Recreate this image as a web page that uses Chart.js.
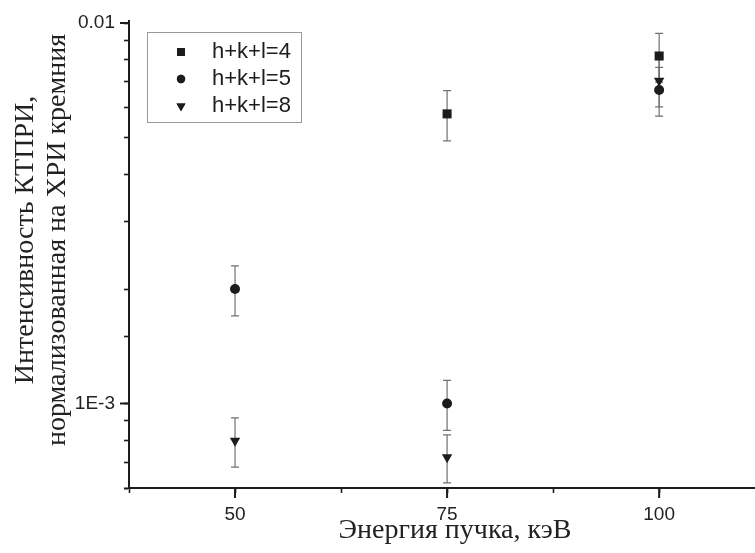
<!DOCTYPE html>
<html lang="ru">
<head>
    <meta charset="UTF-8">
    <title>Интенсивность КТПРИ</title>
    <script src="https://cdn.jsdelivr.net/npm/chart.js"></script>
    <style>
        body { margin: 0; background: #fff; }
        #wrap { width: 755px; height: 553px; }
    </style>
</head>
<body>
    <div id="wrap"><canvas id="chart" width="755" height="553"></canvas></div>

    <script>
        // data
        const energies = [50, 75, 100];
        const seriesLabels = ['h+k+l=4', 'h+k+l=5', 'h+k+l=8'];
        const hkl4 = [null, 0.00577, 0.00819];
        const hkl4Err = [null, 0.00087, 0.0012];
        const hkl5 = [0.0020, 0.0010, 0.00667];
        const hkl5Err = [0.0003, 0.00015, 0.00098];
        const hkl8 = [0.000799, 0.000723, 0.00705];
        const hkl8Err = [0.000118, 0.000104, 0.00103];
        const yTickLabels = { '-2': '0.01', '-3': '1E-3' };
        const xTickLabels = [50, 75, 100];
        const xTitle = 'Энергия пучка, кэВ';
        const yTitle = ['Интенсивность КТПРИ,', 'нормализованная на ХРИ кремния'];

        function points(vals, errs) {
            return energies.map((e, i) => ({ x: e, y: vals[i], err: errs[i] }))
                .filter(p => p.y != null);
        }

        const ink = '#1c1c1c';
        const serif = '"Liberation Serif", "Times New Roman", serif';
        const sans = '"Liberation Sans", Arial, sans-serif';

        // vertical error bars with small caps
        const errorBars = {
            id: 'errorBars',
            beforeDatasetsDraw(chart) {
                const { ctx, scales: { x, y } } = chart;
                ctx.save();
                ctx.strokeStyle = '#707070';
                ctx.lineWidth = 1.2;
                chart.data.datasets.forEach(ds => {
                    ds.data.forEach(p => {
                        const px = x.getPixelForValue(p.x);
                        const top = y.getPixelForValue(p.y + p.err);
                        const bot = y.getPixelForValue(p.y - p.err);
                        ctx.beginPath();
                        ctx.moveTo(px, top); ctx.lineTo(px, bot);
                        ctx.moveTo(px - 4, top); ctx.lineTo(px + 4, top);
                        ctx.moveTo(px - 4, bot); ctx.lineTo(px + 4, bot);
                        ctx.stroke();
                    });
                });
                ctx.restore();
            }
        };

        // longer ticks at the labelled values
        const majorTicks = {
            id: 'majorTicks',
            afterDraw(chart) {
                const { ctx, scales: { x, y }, chartArea } = chart;
                ctx.save();
                ctx.strokeStyle = ink;
                ctx.lineWidth = 1.6;
                ctx.beginPath();
                Object.keys(yTickLabels).forEach(k => {
                    const py = y.getPixelForValue(Math.pow(10, Number(k)));
                    ctx.moveTo(chartArea.left - 9, py); ctx.lineTo(chartArea.left, py);
                });
                xTickLabels.forEach(v => {
                    const px = x.getPixelForValue(v);
                    ctx.moveTo(px, chartArea.bottom); ctx.lineTo(px, chartArea.bottom + 10);
                });
                // axis line runs a little past the top tick
                ctx.lineWidth = 2;
                ctx.moveTo(chartArea.left, chartArea.top);
                ctx.lineTo(chartArea.left, chartArea.top - 3);
                ctx.stroke();
                ctx.restore();
            }
        };

        // axis titles, placed where the original has them
        const axisTitles = {
            id: 'axisTitles',
            afterDraw(chart) {
                const ctx = chart.ctx;
                ctx.save();
                ctx.fillStyle = '#222';
                ctx.font = '28px ' + serif;
                ctx.textAlign = 'center';
                ctx.textBaseline = 'alphabetic';
                ctx.fillText(xTitle, 455, 538);
                ctx.translate(0, 240);
                ctx.rotate(-Math.PI / 2);
                ctx.fillText(yTitle[0], 0, 33);
                ctx.fillText(yTitle[1], 0, 65);
                ctx.restore();
            }
        };

        // boxed legend inside the plot, like the original
        const boxLegend = {
            id: 'boxLegend',
            afterDraw(chart) {
                const ctx = chart.ctx;
                const left = 147, top = 32, w = 154, h = 90;
                ctx.save();
                ctx.strokeStyle = '#9a9a9a';
                ctx.lineWidth = 1;
                ctx.strokeRect(left + 0.5, top + 0.5, w, h);
                ctx.font = '22px ' + sans;
                ctx.textBaseline = 'middle';
                ctx.fillStyle = ink;
                chart.data.datasets.forEach((ds, i) => {
                    const cy = top + 20 + i * 27;
                    Chart.helpers.drawPoint(ctx, {
                        pointStyle: ds.pointStyle,
                        radius: ds.legendRadius,
                        rotation: ds.pointRotation || 0,
                        borderWidth: 0
                    }, left + 34, cy);
                    ctx.fillStyle = ink;
                    ctx.fill();
                    ctx.fillText(ds.label, left + 65, cy);
                });
                ctx.restore();
            }
        };

        const tickFont = { family: sans, size: 19 };

        new Chart(document.getElementById('chart'), {
            type: 'scatter',
            data: {
                datasets: [
                    { label: seriesLabels[0], data: points(hkl4, hkl4Err), pointStyle: 'rect', pointRadius: 6.4, legendRadius: 5.6 },
                    { label: seriesLabels[1], data: points(hkl5, hkl5Err), pointStyle: 'circle', pointRadius: 5, legendRadius: 4.2 },
                    { label: seriesLabels[2], data: points(hkl8, hkl8Err), pointStyle: 'triangle', pointRotation: 180, pointRadius: 6, legendRadius: 5.2 }
                ].map(ds => Object.assign(ds, {
                    backgroundColor: ink,
                    borderColor: ink,
                    borderWidth: 0,
                    pointHoverRadius: ds.pointRadius,
                    showLine: false
                }))
            },
            options: {
                responsive: false,
                animation: false,
                layout: { autoPadding: false, padding: { top: 23, right: 0, left: 0, bottom: 0 } },
                plugins: {
                    legend: { display: false },
                    tooltip: { enabled: false }
                },
                scales: {
                    x: {
                        type: 'linear',
                        min: 37.5,
                        max: 111.3,
                        afterFit(scale) {
                            scale.height = 65;
                            scale.paddingLeft = 0;
                            scale.paddingRight = 0;
                        },
                        afterBuildTicks(scale) {
                            scale.ticks = scale.ticks.filter(t => Math.abs(t.value / 12.5 - Math.round(t.value / 12.5)) < 1e-6);
                        },
                        ticks: {
                            stepSize: 12.5,
                            autoSkip: false,
                            maxRotation: 0,
                            padding: 10,
                            color: '#222',
                            font: tickFont,
                            callback: v => xTickLabels.includes(v) ? String(v) : ''
                        },
                        grid: { drawOnChartArea: false, drawTicks: true, tickLength: 5, tickColor: ink, tickWidth: 1.6 },
                        border: { display: true, color: ink, width: 2 }
                    },
                    y: {
                        type: 'logarithmic',
                        min: 0.0006,
                        max: 0.01,
                        afterFit(scale) { scale.width = 129; },
                        ticks: {
                            autoSkip: false,
                            padding: 9,
                            color: '#222',
                            font: tickFont,
                            callback: v => {
                                const e = Math.round(Math.log10(v));
                                return Math.abs(Math.log10(v) - e) < 1e-6 && yTickLabels[e] ? yTickLabels[e] : '';
                            }
                        },
                        grid: { drawOnChartArea: false, drawTicks: true, tickLength: 5, tickColor: ink, tickWidth: 1.6 },
                        border: { display: true, color: ink, width: 2 }
                    }
                }
            },
            plugins: [errorBars, majorTicks, axisTitles, boxLegend]
        });
    </script>
</body>
</html>
